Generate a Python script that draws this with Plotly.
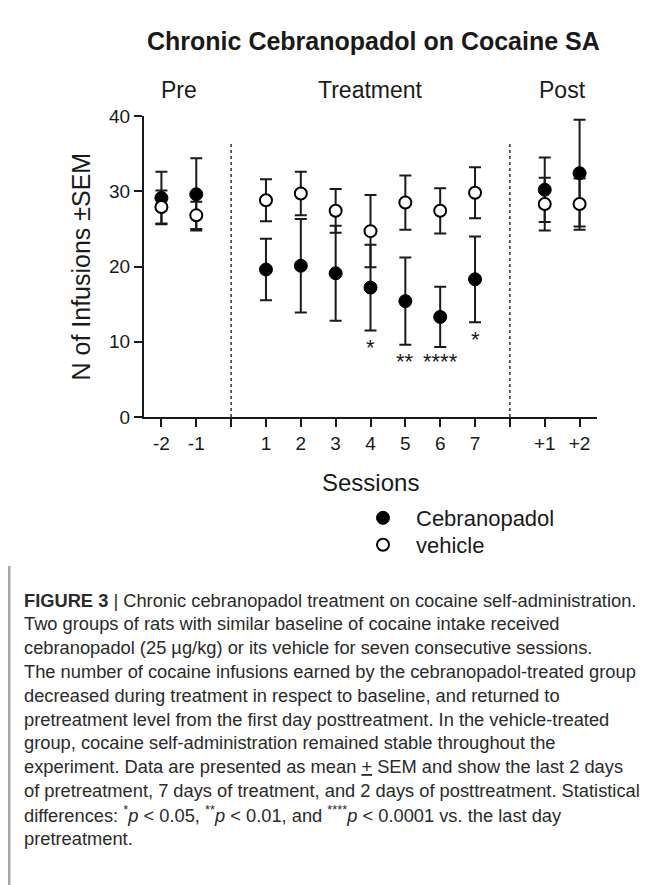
import plotly.graph_objects as go

# ---- data ----
categories = ['-2', '-1', 'g1', '1', '2', '3', '4', '5', '6', '7', 'g2', '+1', '+2']
tick_text = ['-2', '-1', '', '1', '2', '3', '4', '5', '6', '7', '', '+1', '+2']
sessions = ['-2', '-1', '1', '2', '3', '4', '5', '6', '7', '+1', '+2']

cebra_mean = [29.1, 29.6, 19.6, 20.1, 19.1, 17.2, 15.4, 13.3, 18.3, 30.2, 32.4]
cebra_sem = [3.5, 4.8, 4.1, 6.2, 6.3, 5.7, 5.8, 4.0, 5.7, 4.3, 7.1]
veh_mean = [27.9, 26.8, 28.8, 29.7, 27.4, 24.7, 28.5, 27.4, 29.8, 28.3, 28.3]
veh_sem = [2.2, 1.8, 2.8, 2.9, 2.9, 4.8, 3.6, 3.0, 3.4, 3.5, 3.4]

sig_sessions = ['4', '5', '6', '7']
sig_labels = ['*', '**', '****', '*']
sig_y = [9.7, 7.8, 7.8, 10.7]

phase_labels = ['Pre', 'Treatment', 'Post']
phase_centers = [0.5, 6.0, 11.5]
separators = ['g1', 'g2']
sep_top = 36.3

y_ticks = [0, 10, 20, 30, 40]

title_text = 'Chronic Cebranopadol on Cocaine SA'
x_title = 'Sessions'
y_title = 'N of Infusions ±SEM'
caption_lines = [
    '<b>FIGURE 3</b> | Chronic cebranopadol treatment on cocaine self-administration.',
    'Two groups of rats with similar baseline of cocaine intake received',
    'cebranopadol (25 µg/kg) or its vehicle for seven consecutive sessions.',
    'The number of cocaine infusions earned by the cebranopadol-treated group',
    'decreased during treatment in respect to baseline, and returned to',
    'pretreatment level from the first day posttreatment. In the vehicle-treated',
    'group, cocaine self-administration remained stable throughout the',
    'experiment. Data are presented as mean <u>+</u> SEM and show the last 2 days',
    'of pretreatment, 7 days of treatment, and 2 days of posttreatment. Statistical',
    'differences: <sup>*</sup><i>p</i> &lt; 0.05, <sup>**</sup><i>p</i> &lt; 0.01, and <sup>****</sup><i>p</i> &lt; 0.0001 vs. the last day',
    'pretreatment.',
]

# ---- layout geometry (reference pixels; page has an 8px body margin) ----
OFF = 8
W, H = 647 - OFF, 885 - OFF
L, R, T, B = 144 - OFF, 597 - OFF, 116 - OFF, 417 - OFF
INK = '#1a1a1a'
FONT = 'Liberation Sans, Arial, sans-serif'
CAP_FONT = 'Liberation Sans, Arial, sans-serif'


def px_x(px):
    return (px - OFF - L) / (R - L)


def px_y(py):
    return (B - (py - OFF)) / (B - T)


fig = go.Figure()

# error bars first (behind markers)
for mean, sem in [(cebra_mean, cebra_sem), (veh_mean, veh_sem)]:
    fig.add_trace(go.Scatter(
        x=sessions, y=mean, mode='markers',
        marker=dict(size=1, color='rgba(0,0,0,0)'),
        error_y=dict(type='data', array=sem, visible=True, color=INK,
                     thickness=2, width=6),
        showlegend=False, hoverinfo='skip', cliponaxis=False))

fig.add_trace(go.Scatter(
    x=sessions, y=cebra_mean, mode='markers', name='Cebranopadol',
    marker=dict(symbol='circle', size=13, color='black',
                line=dict(color='black', width=1)),
    cliponaxis=False, legend='legend'))
fig.add_trace(go.Scatter(
    x=sessions, y=veh_mean, mode='markers', name='vehicle',
    marker=dict(symbol='circle', size=12, color='white',
                line=dict(color='black', width=2)),
    cliponaxis=False, legend='legend2'))

shapes = []
for s in separators:
    xi = categories.index(s)
    shapes.append(dict(type='line', xref='x', yref='y', x0=xi, x1=xi, y0=0, y1=sep_top,
                       line=dict(color='#333333', width=1.5, dash='dot')))
# caption left rule
shapes.append(dict(type='line', xref='paper', yref='paper',
                   x0=px_x(9), x1=px_x(9), y0=px_y(566), y1=px_y(890),
                   line=dict(color='#a8a8a8', width=3)))

annotations = []
annotations.append(dict(text='<b>%s</b>' % title_text, x=px_x(373), y=px_y(41),
                        xref='paper', yref='paper', showarrow=False,
                        font=dict(size=25, color=INK, family=FONT),
                        xanchor='center', yanchor='middle'))
for lab, c in zip(phase_labels, phase_centers):
    annotations.append(dict(text=lab, x=c, y=px_y(90), xref='x', yref='paper',
                            showarrow=False, font=dict(size=23, color=INK, family=FONT),
                            xanchor='center', yanchor='middle'))
for s, lab, yv in zip(sig_sessions, sig_labels, sig_y):
    annotations.append(dict(text=lab, x=categories.index(s), y=yv, xref='x', yref='y',
                            showarrow=False, font=dict(size=22, color=INK, family=FONT),
                            xanchor='center', yanchor='middle', yshift=-3))
annotations.append(dict(text=x_title, x=0.5, y=px_y(483), xref='paper', yref='paper',
                        showarrow=False, font=dict(size=24, color=INK, family=FONT),
                        xanchor='center', yanchor='middle'))
annotations.append(dict(text=y_title, x=px_x(80), y=0.5, xref='paper', yref='paper',
                        showarrow=False, textangle=-90,
                        font=dict(size=25, color=INK, family=FONT),
                        xanchor='center', yanchor='middle'))
for i, line in enumerate(caption_lines):
    annotations.append(dict(text=line, x=px_x(22), y=px_y(600 + 23.8 * i),
                            xref='paper', yref='paper', showarrow=False, align='left',
                            font=dict(size=18.3, color='#2a2a2a', family=CAP_FONT),
                            xanchor='left', yanchor='middle'))

legend_common = dict(xanchor='left', yanchor='top',
                     font=dict(size=22, family=FONT, color=INK),
                     bgcolor='rgba(0,0,0,0)', itemwidth=56)

fig.update_layout(
    width=W, height=H,
    margin=dict(l=L, r=W - R, t=T, b=H - B, pad=0),
    paper_bgcolor='white', plot_bgcolor='white',
    font=dict(family=FONT, color=INK, size=19),
    xaxis=dict(type='category', categoryorder='array', categoryarray=categories,
               tickmode='array', tickvals=categories, ticktext=tick_text,
               range=[-0.5, 12.5], showgrid=False, zeroline=False,
               showline=True, linecolor=INK, linewidth=2,
               ticks='outside', ticklen=8, tickwidth=2, tickcolor=INK,
               tickfont=dict(size=19, family=FONT, color=INK)),
    yaxis=dict(range=[0, 40], tickvals=y_ticks, showgrid=False, zeroline=False,
               showline=True, linecolor=INK, linewidth=2,
               ticks='outside', ticklen=8, tickwidth=2, tickcolor=INK,
               tickfont=dict(size=19, family=FONT, color=INK)),
    legend=dict(x=px_x(350), y=px_y(497), **legend_common),
    legend2=dict(x=px_x(350), y=px_y(524), **legend_common),
    shapes=shapes, annotations=annotations,
    showlegend=True,
)

fig.write_html('out.html')
